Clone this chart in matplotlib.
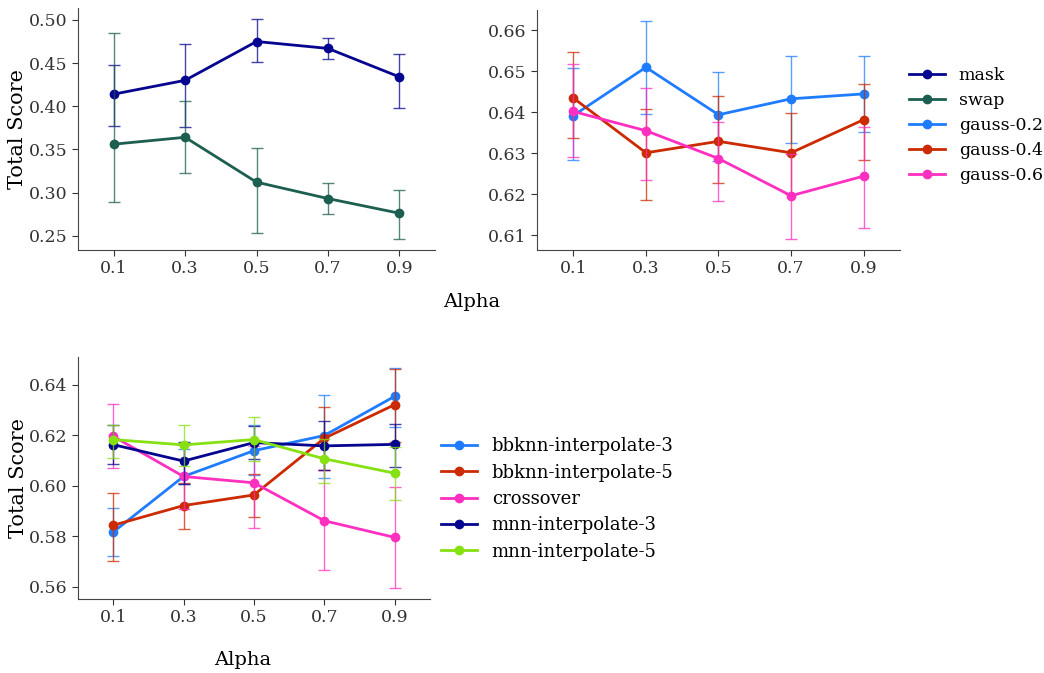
import matplotlib
matplotlib.use("Agg")
import matplotlib.pyplot as plt
import numpy as np

plt.rcParams['font.family'] = ['DejaVu Serif']

alphas = [0.1, 0.3, 0.5, 0.7, 0.9]
tick_labels = ['0.1', '0.3', '0.5', '0.7', '0.9']

# top-left panel: mean, lower, upper
mask = [0.414, 0.430, 0.475, 0.467, 0.434]
mask_lo = [0.377, 0.376, 0.451, 0.4545, 0.398]
mask_hi = [0.448, 0.472, 0.501, 0.479, 0.461]
swap = [0.356, 0.364, 0.312, 0.293, 0.276]
swap_lo = [0.289, 0.3225, 0.2527, 0.2755, 0.2461]
swap_hi = [0.485, 0.406, 0.352, 0.311, 0.303]

# top-right panel
g02 = [0.6392, 0.6510, 0.6394, 0.6433, 0.6445]
g02_lo = [0.6283, 0.6395, 0.6280, 0.6325, 0.6352]
g02_hi = [0.6509, 0.6624, 0.6499, 0.6538, 0.6538]
g04 = [0.6435, 0.6301, 0.6329, 0.6301, 0.6382]
g04_lo = [0.6336, 0.6186, 0.6226, 0.6200, 0.6284]
g04_hi = [0.6547, 0.6408, 0.6439, 0.6399, 0.6470]
g06 = [0.6402, 0.6355, 0.6287, 0.6196, 0.6244]
g06_lo = [0.6291, 0.6235, 0.6183, 0.6090, 0.6116]
g06_hi = [0.6519, 0.6459, 0.6376, 0.6299, 0.6363]

# bottom panel
bb3 = [0.5817, 0.6037, 0.6139, 0.6199, 0.6354]
bb3_lo = [0.5721, 0.6009, 0.6042, 0.6032, 0.6234]
bb3_hi = [0.5911, 0.6147, 0.6241, 0.6358, 0.6466]
bb5 = [0.5844, 0.5922, 0.5964, 0.6188, 0.6321]
bb5_lo = [0.5703, 0.5830, 0.5877, 0.6062, 0.6175]
bb5_hi = [0.5973, 0.6013, 0.6048, 0.6313, 0.6464]
cross = [0.6196, 0.6037, 0.6012, 0.5862, 0.5796]
cross_lo = [0.6072, 0.5910, 0.5834, 0.5668, 0.5596]
cross_hi = [0.6325, 0.6160, 0.6159, 0.6062, 0.5997]
mnn3 = [0.6163, 0.6098, 0.6171, 0.6158, 0.6164]
mnn3_lo = [0.6085, 0.6007, 0.6106, 0.6062, 0.6073]
mnn3_hi = [0.6241, 0.6175, 0.6238, 0.6258, 0.6246]
mnn5 = [0.6183, 0.6162, 0.6183, 0.6107, 0.6050]
mnn5_lo = [0.6110, 0.6077, 0.6099, 0.6013, 0.5944]
mnn5_hi = [0.6241, 0.6242, 0.6272, 0.6185, 0.6155]

c_navy = '#05058f'
c_teal = '#1c5e50'
c_blue = '#1f7cff'
c_red = '#cc2a00'
c_pink = '#ff2fc0'
c_green = '#86e012'


def draw(ax, mean, lo, hi, color, label):
    mean = np.array(mean)
    err = [mean - np.array(lo), np.array(hi) - mean]
    ax.errorbar(alphas, mean, yerr=err, fmt='none', ecolor=color, elinewidth=1,
                capsize=4, capthick=1, alpha=0.75)
    ax.plot(alphas, mean, color=color, lw=2, marker='o', ms=6, label=label)


def style(ax):
    for s in ['top', 'right']:
        ax.spines[s].set_visible(False)
    for s in ['left', 'bottom']:
        ax.spines[s].set_color('#444444')
    ax.set_xticks(alphas)
    ax.set_xticklabels(tick_labels)
    ax.set_xlim(-0.0, 1.0)
    ax.tick_params(labelsize=12.5, colors='#333333', length=4)


fig = plt.figure(figsize=(10.44, 6.73), dpi=100)
ax1 = fig.add_axes([0.0747, 0.6285, 0.342, 0.3595])
ax2 = fig.add_axes([0.5144, 0.6285, 0.3476, 0.357])
ax3 = fig.add_axes([0.0747, 0.110, 0.337, 0.3595])

draw(ax1, mask, mask_lo, mask_hi, c_navy, 'mask')
draw(ax1, swap, swap_lo, swap_hi, c_teal, 'swap')
style(ax1)
ax1.set_yticks([0.25, 0.30, 0.35, 0.40, 0.45, 0.50])
ax1.set_ylabel('Total Score', fontsize=15, labelpad=1)

draw(ax2, g02, g02_lo, g02_hi, c_blue, 'gauss-0.2')
draw(ax2, g04, g04_lo, g04_hi, c_red, 'gauss-0.4')
draw(ax2, g06, g06_lo, g06_hi, c_pink, 'gauss-0.6')
style(ax2)
ax2.set_yticks([0.61, 0.62, 0.63, 0.64, 0.65, 0.66])

draw(ax3, bb3, bb3_lo, bb3_hi, c_blue, 'bbknn-interpolate-3')
draw(ax3, bb5, bb5_lo, bb5_hi, c_red, 'bbknn-interpolate-5')
draw(ax3, cross, cross_lo, cross_hi, c_pink, 'crossover')
draw(ax3, mnn3, mnn3_lo, mnn3_hi, c_navy, 'mnn-interpolate-3')
draw(ax3, mnn5, mnn5_lo, mnn5_hi, c_green, 'mnn-interpolate-5')
style(ax3)
ax3.set_yticks([0.56, 0.58, 0.60, 0.62, 0.64])
ax3.set_ylabel('Total Score', fontsize=15, labelpad=1)

# legend for top row includes both panels
h1, l1 = ax1.get_legend_handles_labels()
h2, l2 = ax2.get_legend_handles_labels()
fig.legend(h1 + h2, l1 + l2, loc='center left', bbox_to_anchor=(0.856, 0.8135),
           frameon=False, fontsize=12.5, handlelength=2.05, labelspacing=0.45)
h3, l3 = ax3.get_legend_handles_labels()
fig.legend(h3, l3, loc='center left', bbox_to_anchor=(0.407, 0.2585),
           frameon=False, fontsize=13, handlelength=2.0, labelspacing=0.46)

fig.text(0.452, 0.551, 'Alpha', fontsize=14, ha='center', va='center')
fig.text(0.232, 0.019, 'Alpha', fontsize=14, ha='center', va='center')

fig.savefig('out.png', dpi=100)
